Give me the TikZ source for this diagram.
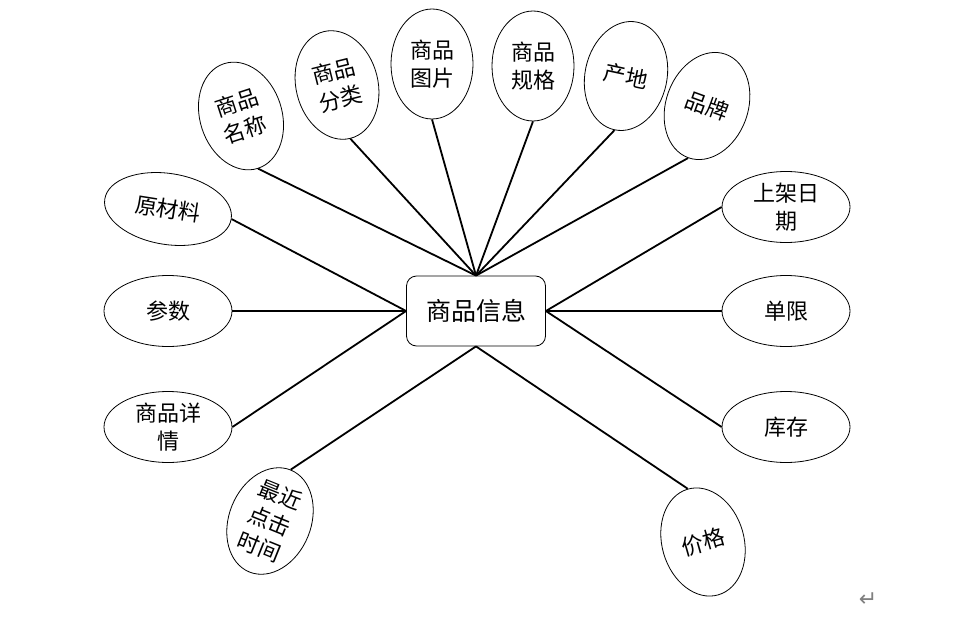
\documentclass[tikz,border=0pt]{standalone}
\usepackage{fontspec}
\newfontfamily\cjk{Noto Sans CJK SC}
\newfontfamily\symfont{DejaVu Sans}
\usetikzlibrary{shapes.geometric}

\begin{document}
\begin{tikzpicture}[x=1pt,y=-1pt,
  attr/.style={draw, ellipse, inner sep=0pt, line width=0.8pt, align=center, font=\cjk\fontsize{22}{28}\selectfont},
  tallattr/.style={attr, minimum width=82pt, minimum height=110pt},
  wideattr/.style={attr, minimum width=128pt, minimum height=71pt},
  link/.style={line width=1.8pt}]
  \useasboundingbox (0,0) rectangle (974,623);

  \node[draw, line width=0.8pt, rounded corners=10pt, minimum width=139pt, minimum height=70pt, font=\cjk\fontsize{25}{30}\selectfont] (info) at (476,311) {商品信息};

  % top
  \node[tallattr, rotate=18] (name) at (241,116) {商品\\名称};
  \node[tallattr, rotate=14] (cat) at (337,85) {商品\\分类};
  \node[tallattr] (pic) at (432,64) {商品\\图片};
  \node[tallattr] (spec) at (533,66) {商品\\规格};
  \node[tallattr, rotate=-12] (origin) at (626,76) {产地};
  \node[tallattr, rotate=-20] (brand) at (707,106) {品牌};

  % left
  \node[wideattr, rotate=-9] (material) at (168,209) {原材料};
  \node[wideattr] (param) at (168,311) {参数};
  \node[wideattr] (detail) at (168,427) {商品详\\情};

  % right
  \node[wideattr] (date) at (786,207) {上架日\\期};
  \node[wideattr] (limit) at (786,311) {单限};
  \node[wideattr] (stock) at (786,427) {库存};

  % bottom
  \node[tallattr, rotate=-22] (click) at (270,521) {最近\\点击\\时间};
  \node[tallattr, rotate=16] (price) at (703,542) {价格};

  \node[text=gray, font=\symfont\fontsize{22}{22}\selectfont] (mark) at (868,600) {↵};

  % links
  \foreach \n in {name,cat,pic,spec,origin,brand}
    \draw[link] (\n.south) -- (info.north);
  \foreach \n in {material,param,detail}
    \draw[link] (\n.east) -- (info.west);
  \foreach \n in {date,limit,stock}
    \draw[link] (\n.west) -- (info.east);
  \draw[link] (click.north) -- (info.south);
  \draw[link] (price.north) -- (info.south);
\end{tikzpicture}
\end{document}
